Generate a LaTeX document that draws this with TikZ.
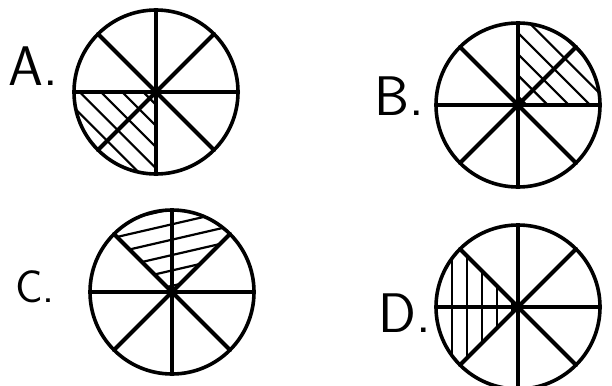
\documentclass[tikz,border=0pt]{standalone}
\usepackage{tikz}
\usetikzlibrary{calc}
\def\R{82}
\newcommand{\wheel}[4]{%
  % #1 centre, #2--#3 shaded sector, #4 angle of the hatch lines
  \begin{scope}
    \clip (#1) -- ($(#1)+(#2:\R)$) arc[start angle=#2, end angle=#3, radius=\R] -- cycle;
    \foreach \d in {-90,-75,...,90}
      \draw[hatch] ($(#1)+(#4:-\R)+(#4+90:\d+6)$) -- ($(#1)+(#4:\R)+(#4+90:\d+6)$);
  \end{scope}
  \foreach \a in {0,45,...,315}
    \draw[spoke] (#1) -- ($(#1)+(\a:\R)$);
  \draw[rim] (#1) circle[radius=\R];
}

\begin{document}
\begin{tikzpicture}[x=1bp, y=1bp,
    rim/.style={line width=3.6bp},
    spoke/.style={line width=4bp, line cap=round},
    hatch/.style={line width=2.2bp},
    lbl/.style={anchor=base west, inner sep=0pt, font=\sffamily\fontsize{56}{56}\selectfont}]
  \useasboundingbox (0,0) rectangle (612,385);
  % centres of the four circles
  \coordinate (cA) at (156,293);
  \coordinate (cB) at (518,280);
  \coordinate (cC) at (172,93);
  \coordinate (cD) at (518,78);
  % A: lower left quarter
  \wheel{cA}{180}{270}{-45}
  \node[lbl] (lblA) at (8,300) {A.};
  % B: upper right quarter
  \wheel{cB}{0}{90}{-45}
  \node[lbl] (lblB) at (374,270) {B.};
  % C: top two eighths
  \wheel{cC}{45}{135}{13}
  \node[lbl, font=\sffamily\fontsize{46}{46}\selectfont] (lblC) at (15,83) {C.};
  % D: left two eighths
  \wheel{cD}{135}{225}{90}
  \node[lbl] (lblD) at (378,53) {D.};
\end{tikzpicture}
\end{document}
